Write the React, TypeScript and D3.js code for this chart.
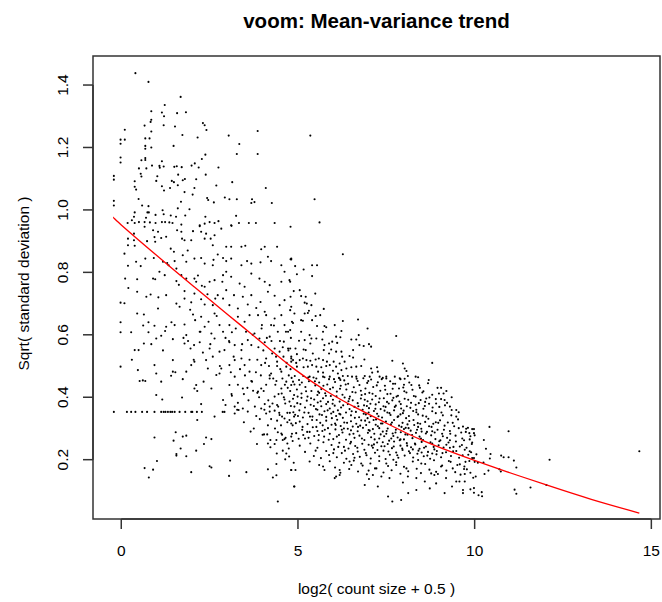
import * as d3 from "d3";

// voom mean-variance trend: [log2(count size + 0.5), sqrt(standard deviation)]
const sparseLowCount: [number, number][] = [
  [0.4, 1.438], [0.77, 1.41], [1.68, 1.362], [1.23, 1.336], [0.85, 1.316], [1.15, 1.312], [1.58, 1.31], [1.83, 1.313],
  [1.21, 1.3], [0.85, 1.289], [0.83, 1.282], [0.1, 1.257], [0.66, 1.27], [1.2, 1.271], [1.52, 1.267], [2.31, 1.278],
  [2.36, 1.271], [2.41, 1.256], [0.85, 1.251], [3.86, 1.253], [1.73, 1.24], [2.16, 1.232], [3.04, 1.238], [-0.02, 1.225],
  [-0.02, 1.212], [0.1, 1.225], [0.68, 1.229], [0.8, 1.229], [3.34, 1.211], [1.48, 1.205], [0.68, 1.205], [0.68, 1.196],
  [0.85, 1.2], [3.27, 1.179], [3.86, 1.179], [2.38, 1.177], [-0.02, 1.168], [-0.02, 1.152], [0.57, 1.159], [0.68, 1.166],
  [0.68, 1.16], [1.15, 1.156], [2.28, 1.163], [2.08, 1.149], [0.5, 1.133], [0.71, 1.133], [0.87, 1.142], [1.08, 1.141],
  [1.2, 1.139], [1.09, 1.135], [1.5, 1.138], [1.57, 1.14], [1.71, 1.137], [1.99, 1.142], [2.19, 1.136], [2.75, 1.136],
  [0.55, 1.116], [0.57, 1.107], [1.61, 1.113], [2.39, 1.113], [-0.21, 1.109], [-0.21, 1.097], [1.02, 1.108], [0.38, 1.092],
  [0.99, 1.093], [1.43, 1.093], [1.49, 1.089], [1.74, 1.095], [1.8, 1.099], [2.12, 1.098], [3.14, 1.089], [0.38, 1.074],
  [0.42, 1.065], [1.15, 1.076], [1.21, 1.062], [1.38, 1.07], [1.6, 1.079], [2.07, 1.07], [2.69, 1.078], [4.09, 1.07],
  [1.79, 1.057], [2.02, 1.049], [0.49, 1.035], [1.69, 1.026], [2.43, 1.038], [2.46, 1.032], [2.93, 1.04], [3.06, 1.034],
  [3.27, 1.034], [2.62, 1.024], [3.7, 1.034], [3.68, 1.022], [3.77, 1.025], [4.26, 1.022], [-0.21, 1.029], [-0.21, 1.014],
  [0.59, 1.014], [0.77, 1.012], [1.17, 0.999], [1.6, 1.005], [1.93, 1.002], [0.38, 0.992], [0.74, 0.992], [0.78, 0.992],
  [1.2, 0.986], [1.4, 0.982], [1.55, 0.978], [1.81, 0.982], [2.38, 0.978], [3.25, 0.981], [0.36, 0.978], [0.7, 0.975],
  [0.97, 0.984], [0.18, 0.958], [0.3, 0.967], [0.38, 0.958], [0.5, 0.961], [0.66, 0.961], [0.81, 0.96], [0.97, 0.958],
  [1.15, 0.961], [1.24, 0.961], [1.36, 0.96], [1.45, 0.958], [1.7, 0.953], [2.22, 0.948], [2.36, 0.956], [2.5, 0.961],
  [2.64, 0.958], [2.75, 0.964], [3.12, 0.949], [3.33, 0.958], [3.61, 0.958], [3.81, 0.958], [4.34, 0.958],
  [5.35, 1.238], [5.47, 1.034], [5.61, 0.96], [6.27, 0.858], [4.79, 0.842],
];

const lowCountBand: [number, number][] = [
  [0.36, 0.924], [0.66, 0.946], [0.19, 0.908], [0.19, 0.887], [0.36, 0.903], [0.38, 0.885], [0.9, 0.935], [0.94, 0.913],
  [0.96, 0.898], [1.04, 0.93], [1.13, 0.91], [1.27, 0.914], [1.4, 0.876], [1.49, 0.866], [1.58, 0.935], [1.7, 0.93],
  [1.72, 0.908], [1.79, 0.903], [1.98, 0.903], [2.03, 0.932], [2.22, 0.951], [2.26, 0.93], [2.36, 0.908], [2.4, 0.924],
  [2.53, 0.908], [2.59, 0.887], [2.64, 0.919], [2.83, 0.94], [3.11, 0.951], [2.97, 0.882], [3.11, 0.882], [3.4, 0.882],
  [3.51, 0.885], [3.96, 0.874], [4.06, 0.882], [4.41, 0.882], [4.79, 0.946],
  [0.09, 0.86], [0.19, 0.821], [0.42, 0.834], [0.68, 0.844], [0.92, 0.846], [1.18, 0.834], [1.34, 0.823], [1.51, 0.836],
  [1.56, 0.812], [1.74, 0.855], [1.84, 0.834], [2.07, 0.844], [2.26, 0.846], [2.36, 0.828], [2.59, 0.823], [2.73, 0.857],
  [2.88, 0.846], [2.97, 0.836], [3.11, 0.844], [3.4, 0.823], [3.56, 0.836], [3.68, 0.828], [3.94, 0.832], [4.15, 0.85],
  [4.24, 0.836], [4.53, 0.823], [4.81, 0.844],
  [0.11, 0.78], [0.45, 0.778], [0.9, 0.78], [0.96, 0.778], [1.08, 0.802], [1.23, 0.791], [1.56, 0.772], [1.7, 0.791],
  [1.84, 0.78], [2.07, 0.78], [2.12, 0.77], [2.28, 0.757], [2.36, 0.754], [2.5, 0.77], [2.64, 0.775], [2.88, 0.791],
  [2.97, 0.802], [3.11, 0.786], [3.35, 0.764], [3.49, 0.754], [3.68, 0.796], [3.91, 0.78], [4.06, 0.77], [4.2, 0.759],
  [4.53, 0.77], [4.62, 0.802], [4.76, 0.775],
  [0.45, 0.738], [0.71, 0.722], [0.83, 0.729], [1.04, 0.684], [1.27, 0.727], [1.56, 0.7], [1.65, 0.69], [1.79, 0.74],
  [1.79, 0.716], [1.98, 0.704], [2.07, 0.732], [2.26, 0.714], [2.36, 0.697], [2.59, 0.695], [2.66, 0.716], [2.73, 0.727],
  [2.88, 0.716], [2.97, 0.743], [3.06, 0.695], [3.19, 0.727], [3.3, 0.684], [3.44, 0.722], [3.58, 0.697], [3.68, 0.727],
  [3.82, 0.686], [3.94, 0.705], [4.06, 0.674], [4.15, 0.738], [4.34, 0.725], [4.48, 0.695], [4.62, 0.711], [4.79, 0.722],
  [4.81, 0.69], [4.9, 0.668], [-0.02, 0.703], [0.09, 0.701],
  [-0.02, 0.64], [-0.02, 0.608], [0.28, 0.608], [0.45, 0.668], [0.64, 0.665], [0.77, 0.64], [0.77, 0.608], [0.94, 0.629],
  [1.24, 0.612], [1.27, 0.626], [1.51, 0.631], [1.79, 0.633], [1.84, 0.599], [2.03, 0.665], [2.09, 0.647], [2.22, 0.61],
  [2.26, 0.658], [2.36, 0.626], [2.47, 0.642], [2.55, 0.604], [2.64, 0.668], [2.78, 0.631], [2.88, 0.61], [3.06, 0.631],
  [3.13, 0.608], [3.3, 0.658], [3.49, 0.642], [3.63, 0.663], [3.77, 0.604], [3.87, 0.663], [3.98, 0.631], [4.1, 0.663],
  [4.24, 0.631], [4.34, 0.652], [4.43, 0.61], [4.53, 0.663], [4.62, 0.631], [4.72, 0.61], [4.83, 0.642],
  [0.38, 0.551], [0.49, 0.551], [0.64, 0.572], [0.99, 0.588], [1.13, 0.597], [1.46, 0.586], [1.79, 0.572], [1.89, 0.58],
  [1.96, 0.556], [2.06, 0.567], [2.22, 0.576], [2.31, 0.543], [2.5, 0.556], [2.64, 0.588], [2.78, 0.546], [2.92, 0.551],
  [3.06, 0.576], [3.21, 0.567], [3.4, 0.551], [3.58, 0.583], [3.68, 0.567], [3.91, 0.588], [4.06, 0.576], [4.2, 0.594],
  [4.34, 0.556], [4.48, 0.546], [4.6, 0.578], [4.72, 0.556], [4.81, 0.524],
  [0.47, 0.487], [0.94, 0.503], [0.99, 0.476], [1.46, 0.519], [1.46, 0.482], [1.84, 0.482], [1.98, 0.503], [2.07, 0.514],
  [2.4, 0.519], [2.45, 0.492], [2.59, 0.53], [2.78, 0.476], [2.83, 0.492], [3.06, 0.503], [3.21, 0.519], [3.4, 0.524],
  [3.49, 0.503], [3.63, 0.482], [3.96, 0.503], [4.1, 0.524], [4.24, 0.476], [4.41, 0.514], [4.53, 0.482], [4.67, 0.498],
  [4.81, 0.514],
  [-0.02, 0.498], [0.52, 0.452], [0.61, 0.454], [0.68, 0.452], [1.13, 0.45], [1.41, 0.469], [1.74, 0.458], [2.07, 0.428],
  [2.12, 0.439], [2.55, 0.428], [2.69, 0.471], [3.06, 0.439], [3.21, 0.466], [3.44, 0.428], [3.68, 0.452], [3.87, 0.418],
  [3.96, 0.428], [4.2, 0.46], [4.39, 0.452], [4.53, 0.428], [4.67, 0.45], [4.81, 0.439],
  [1.05, 0.72], [1.18, 0.55], [1.3, 0.83], [1.42, 0.64], [1.53, 0.48], [1.63, 0.76], [1.76, 0.59], [1.88, 0.87],
  [1.95, 0.68], [2.05, 0.52], [2.17, 0.79], [2.24, 0.61], [2.33, 0.45], [2.44, 0.73], [2.52, 0.57], [2.61, 0.84],
  [2.7, 0.66], [2.79, 0.5], [2.86, 0.77], [2.95, 0.59], [0.55, 0.82], [0.62, 0.63], [0.73, 0.9], [0.85, 0.57],
  [0.2, 0.75], [0.3, 0.52],
];

// genes sitting on the floor of the low-count range
const zeroFloorX = [
  -0.21, 0.16, 0.28, 0.4, 0.59, 0.73, 0.94, 1.13, 1.2, 1.25, 1.32, 1.39, 1.44, 1.51, 1.65, 1.81, 1.98, 2.01, 2.14, 2.28, 2.87,
  2.92,
];
const zeroFloorY = 0.353;

const lowCountTail: [number, number][] = [
  [0.99, 0.407], [1.16, 0.393], [1.72, 0.399], [2.15, 0.42], [2.26, 0.378], [2.88, 0.391], [2.95, 0.375], [3.13, 0.405],
  [3.21, 0.37], [3.3, 0.382], [3.47, 0.41], [3.44, 0.364], [3.73, 0.421], [3.85, 0.414], [4.06, 0.378], [4.2, 0.37],
  [4.34, 0.402], [4.41, 0.375], [4.54, 0.412], [4.62, 0.393], [4.76, 0.386], [4.89, 0.407],
  [2.15, 0.327], [2.64, 0.338], [3.21, 0.348], [3.32, 0.359], [3.58, 0.354], [3.82, 0.34], [3.96, 0.364], [4.1, 0.348],
  [4.2, 0.354], [4.34, 0.357], [4.41, 0.325], [4.48, 0.343], [4.55, 0.338], [4.62, 0.332], [4.7, 0.35], [4.76, 0.327],
  [4.81, 0.316], [4.89, 0.338],
  [0.94, 0.271], [1.54, 0.288], [1.48, 0.261], [1.74, 0.274], [1.84, 0.277], [2.4, 0.271], [2.55, 0.266], [2.34, 0.25],
  [1.68, 0.236], [2.12, 0.229], [1.56, 0.218], [1.56, 0.213], [1.84, 0.211], [1.01, 0.196], [0.66, 0.173], [0.9, 0.168],
  [0.78, 0.143], [1.98, 0.16], [2.5, 0.179], [2.55, 0.175], [3.08, 0.197], [3.05, 0.148], [3.54, 0.16], [3.84, 0.25],
  [4.04, 0.281], [4.13, 0.281], [4.43, 0.288], [4.15, 0.252], [4.22, 0.263], [4.39, 0.263], [4.57, 0.263], [4.62, 0.266],
  [4.53, 0.284], [4.7, 0.252], [4.81, 0.274], [4.34, 0.25], [4.57, 0.229], [4.74, 0.236], [4.67, 0.22], [4.64, 0.201],
  [4.39, 0.186], [4.15, 0.169], [4.29, 0.143], [4.39, 0.15], [4.81, 0.167], [4.89, 0.114], [4.43, 0.066],
  [3.85, 0.52], [3.95, 0.47], [4.02, 0.55], [4.1, 0.44], [4.18, 0.5], [4.25, 0.58], [4.3, 0.46], [4.38, 0.53],
  [4.45, 0.41], [4.5, 0.49], [4.57, 0.56], [4.63, 0.44], [4.68, 0.51], [4.74, 0.47], [4.8, 0.59], [4.86, 0.45],
  [3.9, 0.4], [4.05, 0.36], [4.15, 0.31], [4.28, 0.38], [4.35, 0.3], [4.47, 0.35], [4.55, 0.28], [4.6, 0.4],
  [4.7, 0.32], [4.78, 0.42], [4.85, 0.26], [4.9, 0.37], [3.7, 0.45], [3.6, 0.39], [3.75, 0.3], [3.5, 0.47],
  [4.0, 0.28], [4.22, 0.24], [4.4, 0.22], [4.65, 0.27], [4.75, 0.21], [4.88, 0.19], [3.3, 0.44], [3.1, 0.48],
  [3.05, 0.58], [3.12, 0.41], [3.18, 0.53], [3.24, 0.62], [3.28, 0.36], [3.36, 0.49], [3.42, 0.57], [3.47, 0.32],
  [3.53, 0.61], [3.57, 0.43], [3.63, 0.52], [3.66, 0.29], [3.72, 0.6], [3.78, 0.37], [3.81, 0.48], [3.88, 0.56],
  [3.92, 0.33], [3.97, 0.62], [4.03, 0.42], [4.07, 0.51], [4.12, 0.59], [4.16, 0.39], [4.2, 0.47], [4.24, 0.33],
  [4.27, 0.54], [4.32, 0.63], [4.36, 0.44], [4.41, 0.5], [4.44, 0.37], [4.49, 0.58], [4.52, 0.31], [4.56, 0.46],
  [4.59, 0.53], [4.64, 0.38], [4.66, 0.61], [4.71, 0.43], [4.73, 0.55], [4.77, 0.35], [4.79, 0.49],
];

const midCountUpper: [number, number][] = [
  [4.81, 0.841], [4.92, 0.82], [5.16, 0.809], [5.4, 0.823], [5.54, 0.823], [4.97, 0.794], [5.4, 0.788], [4.78, 0.77],
  [4.88, 0.74], [5.05, 0.743], [5.49, 0.732], [5.09, 0.724], [5.22, 0.722], [5.19, 0.703], [5.25, 0.7], [5.38, 0.695],
  [4.78, 0.679], [5.31, 0.677], [5.28, 0.67], [5.19, 0.668], [5.5, 0.66], [5.63, 0.663], [5.73, 0.683], [4.86, 0.638],
  [5.09, 0.647], [5.14, 0.645], [5.4, 0.647], [5.54, 0.628], [5.71, 0.61], [5.75, 0.628], [5.8, 0.624], [6.04, 0.631],
  [6.27, 0.644], [6.7, 0.649], [6.23, 0.612], [6.97, 0.62], [6.08, 0.594], [6.2, 0.592], [6.51, 0.585], [6.65, 0.585],
  [6.72, 0.599], [7.78, 0.596], [4.78, 0.615], [5.09, 0.61], [5.03, 0.581], [5.19, 0.583], [5.33, 0.599], [5.38, 0.588],
  [5.35, 0.572], [5.52, 0.588], [5.69, 0.585], [5.75, 0.567], [5.88, 0.572], [5.97, 0.578], [6.11, 0.574], [6.74, 0.567],
  [6.86, 0.564], [7.01, 0.57], [7.07, 0.562], [6.56, 0.551], [4.93, 0.556], [5.16, 0.553], [5.22, 0.551], [4.97, 0.538],
  [5.42, 0.54], [5.73, 0.551], [5.88, 0.54], [5.94, 0.553], [6.08, 0.546], [6.23, 0.546], [6.25, 0.53], [6.46, 0.532],
  [6.56, 0.527], [6.88, 0.521], [7.67, 0.517], [7.97, 0.508], [8.8, 0.51], [5.14, 0.524], [4.81, 0.53], [4.78, 0.556],
  [4.86, 0.519], [4.95, 0.51], [5.05, 0.519], [5.24, 0.519], [5.35, 0.517], [5.5, 0.521], [5.59, 0.524], [5.71, 0.519],
  [5.82, 0.514], [6.01, 0.514], [6.18, 0.508], [6.32, 0.514], [4.97, 0.498], [5.16, 0.496], [5.28, 0.498], [5.4, 0.503],
  [5.52, 0.498], [5.66, 0.496], [5.8, 0.5], [5.9, 0.503], [6.08, 0.498], [6.23, 0.487], [6.37, 0.492], [6.51, 0.496],
  [6.65, 0.498], [6.79, 0.5], [7.07, 0.492], [7.24, 0.496], [7.26, 0.482], [7.1, 0.479], [8.02, 0.492], [8.07, 0.484],
  [5.57, 0.482], [5.71, 0.479], [5.99, 0.485], [6.13, 0.476], [6.41, 0.468], [6.65, 0.466], [6.89, 0.468], [7.03, 0.466],
  [7.31, 0.466], [7.5, 0.46], [7.74, 0.466], [7.88, 0.461], [8.02, 0.459], [8.11, 0.468], [8.33, 0.466], [8.4, 0.464],
  [5.33, 0.466], [5.52, 0.46], [5.75, 0.464], [5.9, 0.466], [6.18, 0.46], [6.27, 0.468],
];

const midCountCore: [number, number][] = [
  [4.82, 0.462], [4.9, 0.441], [4.97, 0.425], [5.03, 0.455], [5.1, 0.412], [5.15, 0.468], [5.21, 0.433], [5.27, 0.402],
  [5.31, 0.451], [5.38, 0.42], [5.44, 0.463], [5.49, 0.438], [5.55, 0.407], [5.6, 0.447], [5.66, 0.426], [5.71, 0.466],
  [5.77, 0.413], [5.83, 0.441], [5.88, 0.458], [5.93, 0.404], [5.99, 0.431], [6.05, 0.449], [6.1, 0.418], [6.16, 0.462],
  [6.21, 0.437], [6.26, 0.408], [6.31, 0.454], [6.37, 0.425], [6.42, 0.443], [6.47, 0.402], [6.53, 0.466], [6.58, 0.432],
  [6.63, 0.415], [6.69, 0.452], [6.74, 0.439], [6.8, 0.407], [6.85, 0.461], [6.91, 0.428], [6.96, 0.446], [7.02, 0.414],
  [7.07, 0.457], [7.13, 0.433], [7.2, 0.404], [7.26, 0.448], [7.33, 0.421], [7.4, 0.462], [7.46, 0.437], [7.53, 0.41],
  [7.61, 0.451], [7.68, 0.427], [7.75, 0.443], [7.83, 0.405], [7.9, 0.458], [7.98, 0.431], [8.07, 0.415], [8.15, 0.447],
  [8.24, 0.424], [8.33, 0.402], [8.43, 0.438], [8.55, 0.419], [8.68, 0.445], [8.8, 0.408], [8.95, 0.43], [9.12, 0.412],
  [5.05, 0.44], [5.6, 0.414], [6.2, 0.455], [6.9, 0.41], [7.5, 0.466], [8.0, 0.44],
  [4.8, 0.372], [4.86, 0.395], [4.92, 0.344], [4.98, 0.381], [5.04, 0.358], [5.1, 0.398], [5.14, 0.335], [5.2, 0.367],
  [5.25, 0.389], [5.3, 0.35], [5.36, 0.376], [5.41, 0.338], [5.46, 0.393], [5.51, 0.362], [5.56, 0.383], [5.61, 0.345],
  [5.66, 0.371], [5.71, 0.397], [5.75, 0.355], [5.8, 0.337], [5.85, 0.385], [5.9, 0.364], [5.94, 0.348], [5.99, 0.392],
  [6.04, 0.373], [6.08, 0.34], [6.13, 0.358], [6.18, 0.386], [6.22, 0.367], [6.27, 0.334], [6.32, 0.399], [6.36, 0.351],
  [6.41, 0.378], [6.46, 0.362], [6.5, 0.342], [6.55, 0.39], [6.6, 0.369], [6.64, 0.353], [6.69, 0.381], [6.73, 0.336],
  [6.78, 0.396], [6.83, 0.36], [6.87, 0.374], [6.92, 0.345], [6.97, 0.387], [7.01, 0.365], [7.06, 0.339], [7.1, 0.393],
  [7.15, 0.356], [7.2, 0.377], [7.24, 0.347], [7.29, 0.384], [7.34, 0.362], [7.38, 0.335], [7.43, 0.397], [7.48, 0.369],
  [7.53, 0.351], [7.57, 0.38], [7.62, 0.343], [7.67, 0.39], [7.72, 0.358], [7.77, 0.373], [7.82, 0.337], [7.87, 0.386],
  [7.92, 0.364], [7.97, 0.349], [8.02, 0.395], [8.08, 0.371], [8.14, 0.34], [8.2, 0.382], [8.26, 0.356], [8.33, 0.376],
  [8.4, 0.345], [8.47, 0.391], [8.55, 0.363], [8.63, 0.338], [8.71, 0.379], [8.8, 0.355], [8.9, 0.394], [9.0, 0.369],
  [9.1, 0.342], [9.22, 0.382], [9.35, 0.359], [9.48, 0.338], [5.0, 0.34], [5.55, 0.36], [6.0, 0.353], [6.45, 0.395],
  [7.0, 0.351], [7.45, 0.357], [7.9, 0.345], [8.35, 0.36], [6.2, 0.345], [6.95, 0.372], [7.7, 0.398], [5.8, 0.378],
  [8.6, 0.385], [9.05, 0.394], [9.3, 0.37], [9.55, 0.352],
  [8.63, 0.396], [8.91, 0.38], [9.15, 0.391], [9.48, 0.359], [9.67, 0.306], [9.2, 0.42], [9.35, 0.4], [8.45, 0.43],
  [8.7, 0.455], [9.05, 0.43],
];

const midCountLower: [number, number][] = [
  [4.85, 0.31], [4.95, 0.285], [5.05, 0.322], [5.12, 0.296], [5.2, 0.268], [5.27, 0.314], [5.33, 0.289], [5.4, 0.327],
  [5.46, 0.276], [5.52, 0.305], [5.58, 0.262], [5.63, 0.318], [5.69, 0.292], [5.74, 0.274], [5.8, 0.325], [5.85, 0.301],
  [5.9, 0.283], [5.95, 0.312], [6.0, 0.266], [6.06, 0.297], [6.11, 0.328], [6.16, 0.279], [6.21, 0.308], [6.26, 0.287],
  [6.31, 0.319], [6.36, 0.264], [6.41, 0.299], [6.46, 0.281], [6.5, 0.323], [6.55, 0.306], [6.6, 0.27], [6.65, 0.315],
  [6.69, 0.291], [6.74, 0.277], [6.79, 0.326], [6.84, 0.302], [6.88, 0.263], [6.93, 0.311], [6.98, 0.286], [7.02, 0.32],
  [7.07, 0.272], [7.12, 0.298], [7.16, 0.283], [7.21, 0.329], [7.26, 0.307], [7.3, 0.268], [7.35, 0.316], [7.4, 0.29],
  [7.44, 0.275], [7.49, 0.322], [7.54, 0.3], [7.58, 0.261], [7.63, 0.313], [7.68, 0.284], [7.72, 0.327], [7.77, 0.296],
  [7.82, 0.271], [7.86, 0.309], [7.91, 0.288], [7.96, 0.318], [8.0, 0.265], [8.05, 0.302], [8.1, 0.28], [8.15, 0.324],
  [8.19, 0.293], [8.24, 0.269], [8.29, 0.311], [8.34, 0.286], [8.39, 0.317], [8.44, 0.274], [8.49, 0.299], [8.54, 0.263],
  [8.6, 0.321], [8.65, 0.289], [8.71, 0.307], [8.77, 0.278], [8.83, 0.315], [8.89, 0.266], [8.95, 0.296], [9.02, 0.326],
  [9.08, 0.283], [9.15, 0.309], [9.22, 0.27], [9.3, 0.292], [9.38, 0.318], [9.46, 0.277], [9.55, 0.301], [9.65, 0.268],
  [9.75, 0.289], [9.88, 0.275], [5.3, 0.27], [5.7, 0.31], [6.1, 0.274], [6.5, 0.294], [6.9, 0.325], [7.3, 0.301],
  [7.7, 0.276], [8.1, 0.313], [8.5, 0.29], [8.9, 0.32], [9.3, 0.262], [6.3, 0.3], [7.0, 0.295], [7.5, 0.283],
  [8.0, 0.298], [8.4, 0.305], [8.8, 0.291], [9.1, 0.275], [7.9, 0.265], [7.2, 0.312], [6.7, 0.305], [6.05, 0.316],
  [5.55, 0.292], [5.15, 0.279],
  [5.05, 0.245], [5.2, 0.225], [5.35, 0.252], [5.45, 0.212], [5.55, 0.238], [5.65, 0.205], [5.72, 0.256], [5.8, 0.228],
  [5.88, 0.215], [5.95, 0.247], [6.02, 0.233], [6.1, 0.208], [6.17, 0.254], [6.24, 0.221], [6.3, 0.241], [6.37, 0.203],
  [6.43, 0.236], [6.5, 0.257], [6.56, 0.218], [6.62, 0.244], [6.69, 0.226], [6.75, 0.209], [6.82, 0.251], [6.88, 0.232],
  [6.94, 0.214], [7.0, 0.248], [7.06, 0.204], [7.12, 0.238], [7.18, 0.222], [7.24, 0.255], [7.3, 0.211], [7.36, 0.243],
  [7.42, 0.229], [7.48, 0.202], [7.54, 0.25], [7.6, 0.216], [7.66, 0.237], [7.72, 0.258], [7.78, 0.223], [7.84, 0.206],
  [7.9, 0.245], [7.96, 0.231], [8.02, 0.213], [8.08, 0.253], [8.14, 0.227], [8.2, 0.24], [8.26, 0.207], [8.32, 0.249],
  [8.38, 0.219], [8.44, 0.235], [8.5, 0.257], [8.56, 0.211], [8.62, 0.242], [8.68, 0.225], [8.74, 0.203], [8.8, 0.252],
  [8.86, 0.233], [8.92, 0.217], [8.98, 0.246], [9.05, 0.208], [9.12, 0.239], [9.19, 0.224], [9.26, 0.255], [9.33, 0.212],
  [9.4, 0.241], [9.48, 0.228], [9.56, 0.206], [9.64, 0.247], [9.72, 0.232], [9.82, 0.216], [9.92, 0.25], [6.6, 0.206],
  [7.15, 0.249], [7.7, 0.2], [8.25, 0.233], [8.8, 0.22], [9.3, 0.238], [6.0, 0.221], [7.4, 0.256], [8.5, 0.223],
  [5.5, 0.229], [9.0, 0.259],
  [5.6, 0.183], [5.75, 0.167], [5.9, 0.195], [6.05, 0.175], [6.2, 0.158], [6.3, 0.19], [6.45, 0.17], [6.58, 0.197],
  [6.7, 0.162], [6.83, 0.181], [6.95, 0.153], [7.05, 0.188], [7.18, 0.172], [7.3, 0.196], [7.42, 0.159], [7.55, 0.18],
  [7.65, 0.166], [7.78, 0.192], [7.9, 0.155], [8.0, 0.177], [8.12, 0.163], [8.25, 0.194], [8.36, 0.171], [8.48, 0.157],
  [8.6, 0.186], [8.72, 0.168], [8.85, 0.198], [8.96, 0.154], [9.08, 0.181], [9.2, 0.165], [9.32, 0.193], [9.45, 0.16],
  [9.58, 0.185], [9.7, 0.17], [9.85, 0.196], [7.0, 0.165], [8.4, 0.199], [9.6, 0.152],
  [7.67, 0.066], [7.92, 0.071], [7.55, 0.082], [8.12, 0.093], [8.35, 0.103], [8.73, 0.108], [9.15, 0.093], [9.67, 0.093],
  [9.67, 0.103], [9.36, 0.114], [4.9, 0.114], [6.89, 0.119], [7.26, 0.114], [7.97, 0.127], [8.59, 0.13], [8.91, 0.124],
  [9.48, 0.13], [6.04, 0.141], [6.08, 0.146], [6.18, 0.151], [7.01, 0.138], [7.12, 0.151], [7.36, 0.146], [7.59, 0.141],
  [8.11, 0.146], [8.35, 0.141], [8.86, 0.151], [9.19, 0.141], [9.57, 0.13], [5.71, 0.178], [6.18, 0.167], [6.46, 0.194],
  [6.51, 0.183], [6.79, 0.188], [7.22, 0.172], [7.5, 0.188], [7.78, 0.183], [8.07, 0.172], [8.49, 0.188], [8.77, 0.156],
  [8.91, 0.161], [9.05, 0.178], [9.38, 0.172], [9.71, 0.178], [4.81, 0.167], [4.93, 0.167], [5.33, 0.194],
];

const midCountFill: [number, number][] = [
  [4.83, 0.283], [4.87, 0.352], [4.91, 0.468], [4.94, 0.317], [4.99, 0.402], [5.02, 0.267], [5.07, 0.378], [5.11, 0.447],
  [5.13, 0.305], [5.18, 0.351], [5.23, 0.419], [5.26, 0.289], [5.29, 0.463], [5.34, 0.338], [5.37, 0.397], [5.42, 0.304],
  [5.45, 0.372], [5.48, 0.451], [5.53, 0.327], [5.57, 0.418], [5.59, 0.279], [5.64, 0.387], [5.68, 0.343], [5.72, 0.437],
  [5.76, 0.296], [5.79, 0.405], [5.84, 0.358], [5.87, 0.264], [5.91, 0.426], [5.96, 0.333], [5.98, 0.379],
  [6.02, 0.458], [6.07, 0.311], [6.09, 0.403], [6.14, 0.241], [6.17, 0.347], [6.19, 0.427], [6.24, 0.296], [6.28, 0.374],
  [6.33, 0.229], [6.35, 0.441], [6.39, 0.318], [6.43, 0.387], [6.48, 0.252], [6.52, 0.355], [6.54, 0.417], [6.57, 0.283],
  [6.61, 0.334], [6.66, 0.459], [6.68, 0.238], [6.71, 0.371], [6.76, 0.309], [6.78, 0.421], [6.81, 0.268], [6.86, 0.347],
  [6.89, 0.392], [6.92, 0.221], [6.97, 0.333], [6.99, 0.452], [7.03, 0.293], [7.05, 0.379], [7.09, 0.245], [7.11, 0.411],
  [7.14, 0.327], [7.17, 0.265], [7.19, 0.363], [7.23, 0.438], [7.25, 0.231], [7.28, 0.339], [7.31, 0.396], [7.34, 0.281],
  [7.37, 0.458], [7.39, 0.316], [7.42, 0.371], [7.45, 0.243], [7.47, 0.424],
  [7.51, 0.292], [7.52, 0.385], [7.56, 0.226], [7.59, 0.349], [7.62, 0.411], [7.64, 0.268], [7.66, 0.319], [7.69, 0.443],
  [7.71, 0.242], [7.74, 0.369], [7.76, 0.287], [7.79, 0.402], [7.81, 0.214], [7.84, 0.339], [7.86, 0.428], [7.88, 0.262],
  [7.91, 0.378], [7.93, 0.305], [7.95, 0.236], [7.99, 0.357], [8.01, 0.419], [8.04, 0.281], [8.06, 0.333], [8.09, 0.245],
  [8.12, 0.392], [8.13, 0.301], [8.17, 0.221], [8.18, 0.366], [8.21, 0.439], [8.23, 0.279], [8.27, 0.327], [8.28, 0.404],
  [8.31, 0.252], [8.35, 0.352], [8.37, 0.296], [8.41, 0.229], [8.42, 0.381], [8.46, 0.315], [8.48, 0.268], [8.52, 0.415],
  [8.53, 0.341], [8.57, 0.238], [8.59, 0.372], [8.62, 0.284], [8.66, 0.213], [8.69, 0.331], [8.72, 0.399], [8.75, 0.256],
  [8.78, 0.305], [8.81, 0.367], [8.84, 0.241], [8.87, 0.287], [8.9, 0.349], [8.93, 0.228], [8.97, 0.318], [8.99, 0.412],
  [9.03, 0.262], [9.06, 0.351], [9.09, 0.221], [9.13, 0.296], [9.16, 0.374], [9.2, 0.248], [9.24, 0.319], [9.27, 0.196],
  [9.31, 0.283], [9.34, 0.342], [9.39, 0.227], [9.42, 0.307], [9.47, 0.258], [9.51, 0.183], [9.53, 0.329], [9.58, 0.242],
  [9.62, 0.287], [9.66, 0.214], [9.7, 0.262], [9.77, 0.238], [9.81, 0.302], [9.9, 0.224],
];

const highCount: [number, number][] = [
  [9.76, 0.299], [9.93, 0.298], [9.98, 0.298], [10.42, 0.305], [10.96, 0.291], [9.85, 0.285], [9.98, 0.285], [10.0, 0.278],
  [9.86, 0.265], [10.26, 0.263], [9.93, 0.255], [10.32, 0.235], [9.86, 0.227], [10.05, 0.217], [10.45, 0.218], [9.93, 0.205],
  [9.98, 0.205], [10.43, 0.204], [10.75, 0.213], [10.82, 0.208], [10.96, 0.208], [11.11, 0.197], [11.18, 0.175], [9.74, 0.193],
  [10.0, 0.193], [10.09, 0.19], [10.25, 0.191], [9.78, 0.169], [9.72, 0.154], [9.88, 0.158], [10.03, 0.146], [9.96, 0.142],
  [10.28, 0.154], [10.39, 0.165], [10.7, 0.169], [10.74, 0.162], [9.72, 0.13], [9.88, 0.105], [9.98, 0.109], [9.98, 0.094],
  [10.11, 0.086], [10.2, 0.096], [10.21, 0.083], [11.13, 0.104], [11.18, 0.091], [11.58, 0.111], [12.12, 0.2], [12.03, 0.119],
  [14.66, 0.227],
];

// lowess trend
const trendX = [-0.21, 0, 1.13, 2.07, 3.0, 4.0, 4.9, 5.8, 6.65, 7.59, 8.54, 9.72, 10.9, 12.03, 13.3, 14.66];
const trendY = [0.976, 0.952, 0.842, 0.753, 0.666, 0.573, 0.49, 0.42, 0.366, 0.312, 0.261, 0.209, 0.162, 0.119, 0.073, 0.029];

const xTicks = [0, 5, 10, 15];
const yTicks = [0.2, 0.4, 0.6, 0.8, 1.0, 1.2, 1.4];

const width = 662;
const height = 602;
const box = { left: 93, right: 660, top: 56, bottom: 519 };
const font = "'Liberation Sans', Arial, Helvetica, sans-serif";

export default function App() {
  const x = d3.scaleLinear().domain([-0.8, 15.245]).range([box.left, box.right]);
  const y = d3.scaleLinear().domain([0.01, 1.493]).range([box.bottom, box.top]);

  const points: [number, number][] = [
    ...sparseLowCount,
    ...lowCountBand,
    ...zeroFloorX.map((v) => [v, zeroFloorY] as [number, number]),
    ...lowCountTail,
    ...midCountUpper,
    ...midCountCore,
    ...midCountLower,
    ...midCountFill,
    ...highCount,
  ];

  const trend = d3
    .line<number>()
    .x((d) => x(d))
    .y((_, i) => y(trendY[i]))
    .curve(d3.curveNatural)(trendX);

  return (
    <svg
      width={width}
      height={height}
      style={{ position: "absolute", left: 0, top: 0, background: "#fff" }}
      fontFamily={font}
    >
      <text x={(box.left + box.right) / 2} y={28} textAnchor="middle" fontWeight="bold" fontSize={20.5}>
        voom: Mean-variance trend
      </text>

      {points.map((d, i) => (
        <circle key={i} cx={x(d[0])} cy={y(d[1])} r={1.05} fill="#000" />
      ))}

      <path d={trend ?? ""} fill="none" stroke="#ff0000" strokeWidth={1.3} />

      <rect
        x={box.left}
        y={box.top}
        width={box.right - box.left}
        height={box.bottom - box.top}
        fill="none"
        stroke="#333"
        strokeWidth={1.5}
      />

      {/* x axis */}
      <line x1={x(0)} x2={x(15)} y1={box.bottom} y2={box.bottom} stroke="#333" strokeWidth={1.5} />
      {xTicks.map((t) => (
        <g key={t}>
          <line x1={x(t)} x2={x(t)} y1={box.bottom} y2={box.bottom + 10} stroke="#333" strokeWidth={1.5} />
          <text x={x(t)} y={556} textAnchor="middle" fontSize={15.5}>
            {t}
          </text>
        </g>
      ))}

      {/* y axis */}
      <line x1={box.left} x2={box.left} y1={y(0.2)} y2={y(1.4)} stroke="#333" strokeWidth={1.5} />
      {yTicks.map((t) => (
        <g key={t}>
          <line x1={box.left - 10} x2={box.left} y1={y(t)} y2={y(t)} stroke="#333" strokeWidth={1.5} />
          <text transform={`translate(68,${y(t)}) rotate(-90)`} textAnchor="middle" fontSize={15.5}>
            {t.toFixed(1)}
          </text>
        </g>
      ))}

      <text x={(box.left + box.right) / 2} y={594} textAnchor="middle" fontSize={15.5}>
        log2( count size + 0.5 )
      </text>
      <text
        transform={`translate(29,${(box.top + box.bottom) / 2 - 4}) rotate(-90)`}
        textAnchor="middle"
        fontSize={15.5}
      >
        Sqrt( standard deviation )
      </text>
    </svg>
  );
}
